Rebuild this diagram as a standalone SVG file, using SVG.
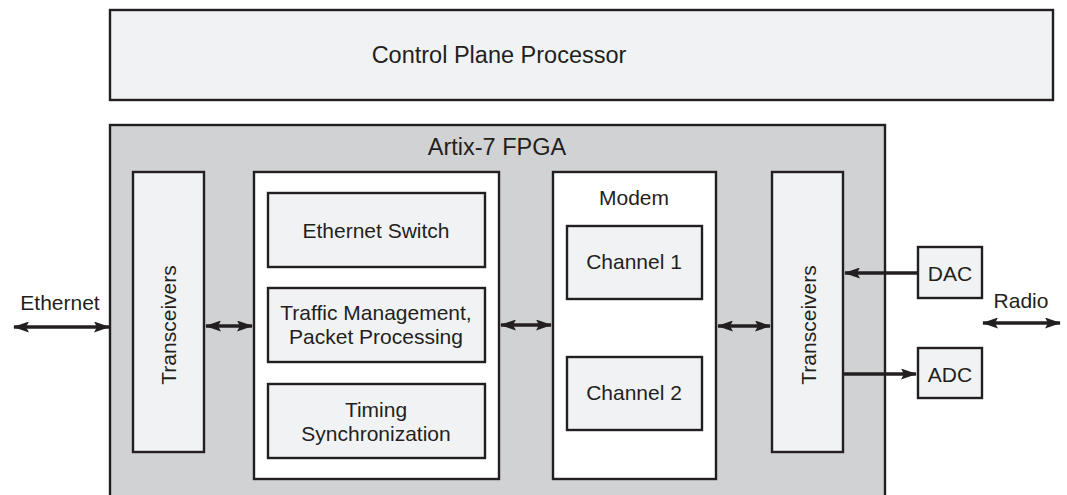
<svg xmlns="http://www.w3.org/2000/svg" width="1067" height="495" viewBox="0 0 1067 495">
<style>
.b{stroke:#231f20;stroke-width:2.4}
.lt{fill:#f1f2f4}
.wh{fill:#ffffff}
.gr{fill:#d1d2d4}
text{font-family:"Liberation Sans",Arial,sans-serif;font-size:21px;fill:#231f20;text-anchor:middle}
.big{font-size:23.5px}
.c{stroke:#231f20;stroke-width:3.5;fill:none}
</style>
<defs>
<marker id="ah" viewBox="0 0 16 11" refX="15" refY="5.5" markerWidth="16" markerHeight="11" orient="auto-start-reverse" markerUnits="userSpaceOnUse">
<path d="M0,0 L16,5.5 L0,11 L3,5.5 Z" fill="#231f20"/>
</marker>
</defs>
<rect width="1067" height="495" fill="#ffffff"/>
<g id="control-plane">
<rect class="b lt" x="110" y="10" width="943" height="90"/>
<text class="big" x="499" y="63">Control Plane Processor</text>
</g>
<g id="fpga">
<rect class="b gr" x="110" y="125" width="775" height="380"/>
<text class="big" x="497" y="155">Artix-7 FPGA</text>
</g>
<g id="transceivers-left">
<rect class="b lt" x="133" y="172" width="71" height="280"/>
<text transform="translate(175.5,325) rotate(-90)">Transceivers</text>
</g>
<g id="switch-block">
<rect class="b wh" x="254" y="172" width="245" height="307"/>
</g>
<g id="ethernet-switch">
<rect class="b lt" x="268" y="193" width="217" height="74"/>
<text x="376" y="238">Ethernet Switch</text>
</g>
<g id="traffic">
<rect class="b lt" x="268" y="288" width="217" height="74"/>
<text x="376" y="320">Traffic Management,</text>
<text x="376" y="344">Packet Processing</text>
</g>
<g id="timing">
<rect class="b lt" x="268" y="384" width="217" height="74"/>
<text x="376" y="417">Timing</text>
<text x="376" y="441">Synchronization</text>
</g>
<g id="modem">
<rect class="b wh" x="553" y="172" width="163" height="307"/>
<text x="634" y="205">Modem</text>
</g>
<g id="channel1">
<rect class="b lt" x="567" y="226" width="135" height="73"/>
<text x="634" y="269">Channel 1</text>
</g>
<g id="channel2">
<rect class="b lt" x="567" y="357" width="135" height="73"/>
<text x="634" y="400">Channel 2</text>
</g>
<g id="transceivers-right">
<rect class="b lt" x="772" y="172" width="71" height="280"/>
<text transform="translate(815.5,325) rotate(-90)">Transceivers</text>
</g>
<g id="dac">
<rect class="b lt" x="918" y="247" width="64" height="51"/>
<text x="950" y="281">DAC</text>
</g>
<g id="adc">
<rect class="b lt" x="918" y="348" width="64" height="50"/>
<text x="950" y="382">ADC</text>
</g>
<g id="labels">
<text x="60" y="310">Ethernet</text>
<text x="1021" y="308">Radio</text>
</g>
<g id="connectors">
<line class="c" x1="14" y1="327" x2="109" y2="327" marker-start="url(#ah)" marker-end="url(#ah)"/>
<line class="c" x1="206" y1="326" x2="252" y2="326" marker-start="url(#ah)" marker-end="url(#ah)"/>
<line class="c" x1="501" y1="325" x2="551" y2="325" marker-start="url(#ah)" marker-end="url(#ah)"/>
<line class="c" x1="718" y1="326" x2="770" y2="326" marker-start="url(#ah)" marker-end="url(#ah)"/>
<line class="c" x1="917" y1="273" x2="845" y2="273" marker-end="url(#ah)"/>
<line class="c" x1="844" y1="374" x2="916" y2="374" marker-end="url(#ah)"/>
<line class="c" x1="983" y1="323" x2="1060" y2="323" marker-start="url(#ah)" marker-end="url(#ah)"/>
</g>
</svg>
